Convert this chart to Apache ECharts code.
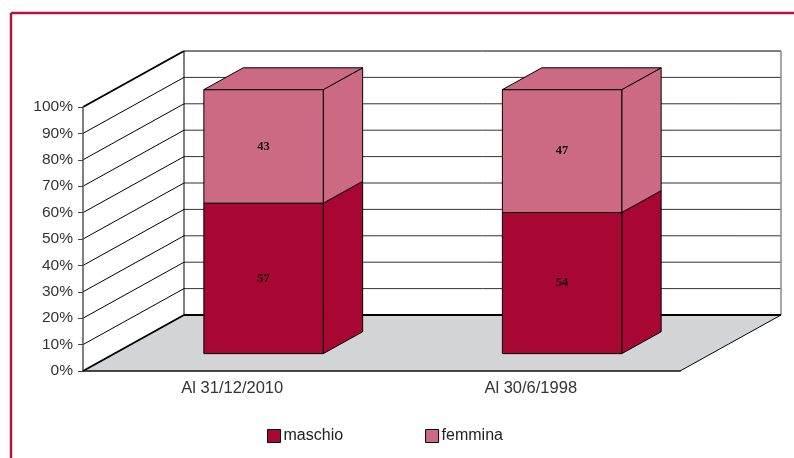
<!DOCTYPE html>
<html>
<head>
<meta charset="utf-8">
<script src="https://cdn.jsdelivr.net/npm/echarts@6/dist/echarts.min.js"></script>
<style>
  html, body { margin: 0; padding: 0; background: #fff; }
  #main { width: 794px; height: 458px; }
</style>
</head>
<body>
<div id="main"></div>
<script>
// dati
var categories = ['Al 31/12/2010', 'Al 30/6/1998'];
var maschio = [57, 54];
var femmina = [43, 47];
var pctTicks = [0, 10, 20, 30, 40, 50, 60, 70, 80, 90, 100];

var colMaschio = '#a90733';
var colFemmina = '#cc6a84';
var FONT = '"Liberation Sans", sans-serif';

// profondita' 3D
var DX = 101, DY = -56;
var W1 = 0.31, W2 = 0.70;   // posizione della barra nella profondita'
var BAR = 0.4;              // larghezza barra rispetto alla banda

// dati normalizzati al 100%
var dataM = [], dataF = [];
for (var i = 0; i < categories.length; i++) {
    var tot = maschio[i] + femmina[i];
    var pm = maschio[i] / tot * 100;
    dataM.push([i, 0, pm, maschio[i]]);
    dataF.push([i, pm, 100, femmina[i]]);
}

function renderBar(params, api) {
    var cat = api.value(0), lo = api.value(1), hi = api.value(2), raw = api.value(3);
    var pLo = api.coord([cat, lo]);
    var pHi = api.coord([cat, hi]);
    var band = api.size([1, 0])[0];
    var w = band * BAR;
    var L = pLo[0] - w / 2 + W1 * DX;
    var yLo = pLo[1] + W1 * DY;
    var yHi = pHi[1] + W1 * DY;
    var bdx = (W2 - W1) * DX, bdy = (W2 - W1) * DY;
    var color = api.visual('color');
    var st = {fill: color, stroke: '#000', lineWidth: 1};
    var children = [
        {type: 'polygon', shape: {points: [[L + w, yLo], [L + w, yHi], [L + w + bdx, yHi + bdy], [L + w + bdx, yLo + bdy]]}, style: st},
        {type: 'rect', shape: {x: L, y: yHi, width: w, height: yLo - yHi}, style: st},
        {type: 'text', style: {text: String(raw), x: L + w / 2, y: (yLo + yHi) / 2, align: 'center', verticalAlign: 'middle',
            font: 'bold 12.5px "Liberation Serif", serif', fill: '#111'}}
    ];
    if (hi >= 100) {
        children.push({type: 'polygon', shape: {points: [[L, yHi], [L + w, yHi], [L + w + bdx, yHi + bdy], [L + bdx, yHi + bdy]]}, style: st});
    }
    return {type: 'group', children: children};
}

function renderWalls(params, api) {
    var cs = params.coordSys;
    var x0 = cs.x, x1 = cs.x + cs.width;
    var yb = api.coord([0, 0])[1];
    var yt = api.coord([0, 100])[1];
    var ch = [];
    // pavimento
    ch.push({type: 'polygon', shape: {points: [[x0, yb], [x1, yb], [x1 + DX, yb + DY], [x0 + DX, yb + DY]]},
        style: {fill: '#d3d4d6', stroke: null}});
    // griglia parete di fondo e laterale
    pctTicks.forEach(function (v) {
        var y = api.coord([0, v])[1];
        var top = v === 100;
        if (v > 0) {
            ch.push({type: 'line', shape: {x1: x0 + DX, y1: y + DY, x2: x1 + DX, y2: y + DY},
                style: {stroke: top ? '#000' : '#333', lineWidth: 1}});
        }
        ch.push({type: 'line', shape: {x1: x0, y1: y, x2: x0 + DX, y2: y + DY},
            style: {stroke: '#000', lineWidth: (top || v === 0) ? 2 : 1}});
    });
    ch.push({type: 'line', shape: {x1: x0 + DX, y1: yb + DY, x2: x0 + DX, y2: yt + DY}, style: {stroke: '#000', lineWidth: 1}});
    ch.push({type: 'line', shape: {x1: x1 + DX, y1: yb + DY, x2: x1 + DX, y2: yt + DY}, style: {stroke: '#888', lineWidth: 1.5}});
    ch.push({type: 'line', shape: {x1: x0 + DX, y1: yb + DY, x2: x1 + DX, y2: yb + DY}, style: {stroke: '#000', lineWidth: 2}});
    ch.push({type: 'line', shape: {x1: x1, y1: yb, x2: x1 + DX, y2: yb + DY}, style: {stroke: '#000', lineWidth: 1}});
    return {type: 'group', children: ch};
}

var chart = echarts.init(document.getElementById('main'));
var option = {
    animation: false,
    backgroundColor: '#fff',
    graphic: [
        {type: 'line', shape: {x1: 11, y1: 13, x2: 794, y2: 13}, style: {stroke: '#b3123f', lineWidth: 2.5}},
        {type: 'line', shape: {x1: 11, y1: 13, x2: 11, y2: 458}, style: {stroke: '#b3123f', lineWidth: 2.5}}
    ],
    grid: {left: 83, right: 114, top: 107, bottom: 87},
    legend: {
        data: ['maschio', 'femmina'],
        left: 262, top: 423,
        itemWidth: 13, itemHeight: 13, itemGap: 82,
        icon: 'rect',
        itemStyle: {borderColor: '#000', borderWidth: 1},
        textStyle: {fontFamily: FONT, fontSize: 16, color: '#222', padding: [0, 0, 0, -2]}
    },
    xAxis: {
        type: 'category',
        data: categories,
        z: 5,
        axisLine: {lineStyle: {color: '#111', width: 1.5}},
        axisTick: {length: 5, lineStyle: {color: '#333'}},
        axisLabel: {fontFamily: FONT, fontSize: 16.5, color: '#333', margin: 9}
    },
    yAxis: {
        type: 'value',
        min: 0, max: 100, interval: 10,
        z: 5,
        axisLine: {show: true, lineStyle: {color: '#555', width: 1.5}},
        axisTick: {show: true, length: 5, lineStyle: {color: '#444'}},
        splitLine: {show: false},
        axisLabel: {formatter: '{value}%', fontFamily: FONT, fontSize: 15.5, color: '#333', margin: 10}
    },
    series: [
        {type: 'custom', name: 'pareti', z: 1, silent: true, renderItem: renderWalls, data: [[0, 0]], encode: {x: 0, y: 1}},
        {type: 'custom', name: 'maschio', z: 2, renderItem: renderBar, data: dataM, itemStyle: {color: colMaschio},
            encode: {x: 0, y: [1, 2]}},
        {type: 'custom', name: 'femmina', z: 3, renderItem: renderBar, data: dataF, itemStyle: {color: colFemmina},
            encode: {x: 0, y: [1, 2]}}
    ]
};
chart.setOption(option);
</script>
</body>
</html>
